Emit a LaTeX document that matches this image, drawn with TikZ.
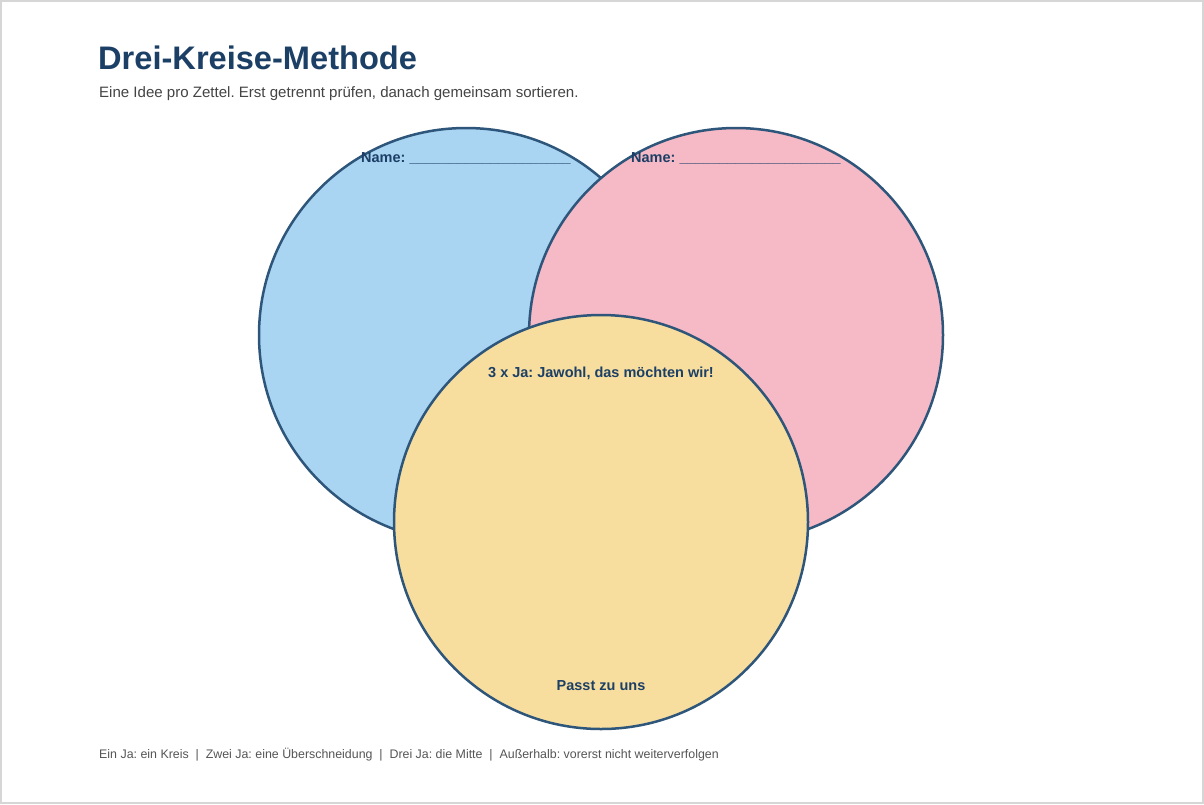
\documentclass[tikz,border=0pt]{standalone}
\usepackage{fontspec}
\setmainfont{Liberation Sans}
\frenchspacing
\definecolor{bluefill}{HTML}{A9D5F3}
\definecolor{pinkfill}{HTML}{F6B9C6}
\definecolor{yellowfill}{HTML}{F7DE9F}
\definecolor{ringcol}{HTML}{2E557A}
\definecolor{titlecol}{HTML}{1C3F66}
\definecolor{subcol}{HTML}{444444}
\definecolor{footcol}{HTML}{555555}
\definecolor{framecol}{HTML}{D6D6D6}
\tikzset{
  ring/.style={draw=ringcol, line width=2.5pt},
  lbl/.style={text=titlecol, font=\fontsize{14.5}{17}\selectfont\bfseries, inner sep=0pt, anchor=base},
}
\begin{document}
\begin{tikzpicture}[x=1pt,y=-1pt]
\useasboundingbox (0,0) rectangle (1204,804);
\fill[white] (0,0) rectangle (1204,804);
\draw[framecol, line width=2pt] (1,1) rectangle (1203,803);
\filldraw[ring, fill=bluefill] (466,335) circle (207);
\filldraw[ring, fill=pinkfill] (736,335) circle (207);
\filldraw[ring, fill=yellowfill] (601,522) circle (207);
\node[anchor=base west, inner sep=0pt, text=titlecol, font=\fontsize{32.6}{38}\selectfont\bfseries] (title) at (98,69) {Drei-Kreise-Methode};
\node[anchor=base west, inner sep=0pt, text=subcol, font=\fontsize{15.05}{18}\selectfont] (sub) at (99,97) {Eine Idee pro Zettel. Erst getrennt prüfen, danach gemeinsam sortieren.};
\node[lbl] (nameA) at (466,162) {Name: \_\_\_\_\_\_\_\_\_\_\_\_\_\_\_\_\_\_\_\_};
\node[lbl] (nameB) at (736,162) {Name: \_\_\_\_\_\_\_\_\_\_\_\_\_\_\_\_\_\_\_\_};
\node[lbl] (mid) at (601,377) {3 x Ja: Jawohl, das möchten wir!};
\node[lbl] (fit) at (601,690) {Passt zu uns};
\node[anchor=base west, inner sep=0pt, text=footcol, font=\fontsize{12.4}{14}\selectfont] (foot) at (99,758) {Ein Ja: ein Kreis \ | \ Zwei Ja: eine Überschneidung \ | \ Drei Ja: die Mitte \ | \ Außerhalb: vorerst nicht weiterverfolgen};
\end{tikzpicture}
\end{document}
